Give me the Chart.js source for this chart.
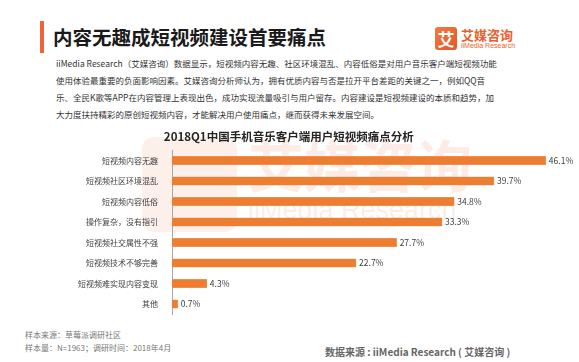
<!DOCTYPE html>
<html>
<head>
<meta charset="utf-8">
<script src="https://cdn.jsdelivr.net/npm/chart.js@4"></script>
<style>
    body { margin: 0; width: 579px; height: 362px; background: #fff; position: relative; overflow: hidden; font-family: "Noto Sans CJK SC", sans-serif; }
    .abs { position: absolute; white-space: nowrap; }
    #bar-mark { left: 40px; top: 21px; width: 4px; height: 32px; background: #f0643a; }
    #headline { left: 53px; top: 23px; font-size: 19.5px; font-weight: bold; color: #1a1a1a; line-height: 28px; }
    #logo-box { left: 435px; top: 27px; width: 22px; height: 23px; border-radius: 3px; background: linear-gradient(135deg, #f47a3c, #e4562a); color: #fff; font-size: 17px; font-weight: bold; line-height: 23px; text-align: center; }
    #logo-cn { left: 461px; top: 27px; font-size: 13px; font-weight: bold; color: #e8612c; line-height: 16px; }
    #logo-en { left: 461px; top: 42px; font-size: 7px; color: #e8612c; line-height: 8px; font-family: "Liberation Sans", sans-serif; }
    #intro { left: 56px; top: 55px; font-size: 8.5px; color: #333; line-height: 17px; }
    .wm { color: rgba(240, 110, 60, 0.13); font-weight: bold; }
    #wm-box { left: 142px; top: 137px; width: 95px; height: 95px; border-radius: 12px; background: rgba(240, 110, 60, 0.11); }
    #wm-cn { left: 248px; top: 128px; font-size: 56px; line-height: 70px; }
    #wm-en { left: 248px; top: 194px; font-size: 27px; line-height: 32px; font-weight: normal; font-family: "Liberation Sans", sans-serif; }
    #chart-wrap { left: 0; top: 125px; width: 579px; height: 200px; }
    .note { left: 25px; font-size: 8px; color: #777; line-height: 12px; }
    #source { left: 325px; top: 345px; font-size: 10px; font-weight: bold; color: #666; line-height: 14px; }
</style>
</head>
<body>
<div class="abs" id="bar-mark"></div>
<div class="abs" id="headline">内容无趣成短视频建设首要痛点</div>
<div class="abs" id="logo-box">艾</div>
<div class="abs" id="logo-cn">艾媒咨询</div>
<div class="abs" id="logo-en">iiMedia Research</div>
<div class="abs" id="intro">iiMedia Research（艾媒咨询）数据显示，短视频内容无趣、社区环境混乱、内容低俗是对用户音乐客户端短视频功能<br>使用体验最重要的负面影响因素。艾媒咨询分析师认为，拥有优质内容与否是拉开平台差距的关键之一，例如QQ音<br>乐、全民K歌等APP在内容管理上表现出色，成功实现流量吸引与用户留存。内容建设是短视频建设的本质和趋势，加<br>大力度扶持精彩的原创短视频内容，才能解决用户使用痛点，继而获得未来发展空间。</div>
<div class="abs wm" id="wm-box"></div>
<div class="abs wm" id="wm-cn">艾媒咨询</div>
<div class="abs wm" id="wm-en">iiMedia Research</div>
<div class="abs" id="chart-wrap"><canvas id="pain-chart" width="579" height="200"></canvas></div>
<div class="abs note" style="top: 329px;">样本来源：草莓派调研社区</div>
<div class="abs note" style="top: 342px;">样本量：N=1963；调研时间：2018年4月</div>
<div class="abs" id="source">数据来源 : iiMedia Research ( 艾媒咨询 )</div>

<script>
const categories = ['短视频内容无趣', '短视频社区环境混乱', '短视频内容低俗', '操作复杂，没有指引', '短视频社交属性不强', '短视频技术不够完善', '短视频难实现内容变现', '其他'];
const painValues = [46.1, 39.7, 34.8, 33.3, 27.7, 22.7, 4.3, 0.7];
const chartTitle = '2018Q1中国手机音乐客户端用户短视频痛点分析';

// draws the "46.1%" labels at the end of each bar
const valueLabels = {
    id: 'valueLabels',
    afterDatasetsDraw(chart) {
        const ctx = chart.ctx;
        const meta = chart.getDatasetMeta(0);
        ctx.save();
        ctx.font = '8.5px "Noto Sans CJK SC", sans-serif';
        ctx.fillStyle = '#404040';
        ctx.textBaseline = 'middle';
        meta.data.forEach((bar, i) => {
            ctx.fillText(painValues[i].toFixed(1) + '%', bar.x + 3, bar.y);
        });
        ctx.restore();
    }
};

const painChart = new Chart(document.getElementById('pain-chart'), {
    type: 'bar',
    data: {
        labels: categories,
        datasets: [{
            data: painValues,
            backgroundColor: '#ed7d31',
            borderColor: '#f3a06a',
            borderWidth: 0.5,
            barThickness: 8.5
        }]
    },
    options: {
        indexAxis: 'y',
        responsive: false,
        animation: false,
        layout: { padding: { top: 0, right: 1.5, bottom: 3, left: 0 } },
        scales: {
            x: {
                display: false,
                min: 0,
                max: 50
            },
            y: {
                afterFit: function(scale) {
                    scale.width = 172;
                },
                grid: { display: false },
                border: { display: true, color: '#a6a6a6', width: 1 },
                ticks: {
                    padding: 6,
                    color: '#404040',
                    font: { size: 8, family: '"Noto Sans CJK SC", sans-serif' }
                }
            }
        },
        plugins: {
            legend: { display: false },
            tooltip: { enabled: false },
            title: {
                display: true,
                text: chartTitle,
                color: '#262626',
                font: { size: 11.5, weight: 'bold', family: '"Noto Sans CJK SC", sans-serif' },
                padding: { top: 5, bottom: 6.5 }
            }
        }
    },
    plugins: [valueLabels]
});
</script>
</body>
</html>
